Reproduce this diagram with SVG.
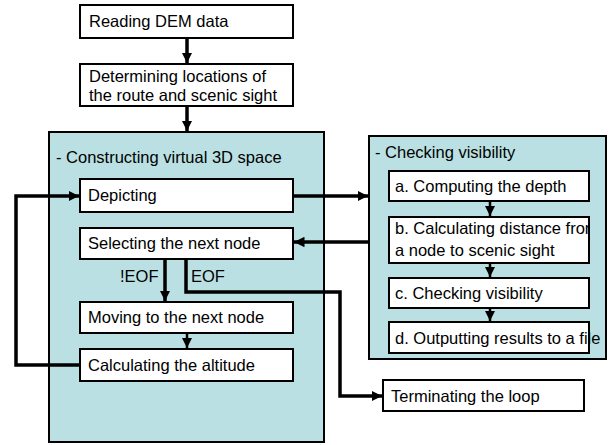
<svg xmlns="http://www.w3.org/2000/svg" width="610" height="445" viewBox="0 0 610 445">
<defs>
<style>
.box{fill:#fff;stroke:#000;stroke-width:2}
.panel{fill:#bae0e3;stroke:#000;stroke-width:2}
.t{font-family:"Liberation Sans",Arial,sans-serif;font-size:16.5px;fill:#000}
.c{fill:none;stroke:#000;stroke-width:3.5}
.c2{fill:none;stroke:#000;stroke-width:2.5}
</style>
<clipPath id="clipb"><rect x="389" y="217" width="200" height="46"/></clipPath>
<marker id="ah" viewBox="0 0 10 10" refX="10" refY="5" markerWidth="3" markerHeight="3" orient="auto" markerUnits="strokeWidth">
<path d="M0,0 L10,5 L0,10 z" fill="#000"/>
</marker>
<marker id="ah2" viewBox="0 0 10 10" refX="10" refY="5" markerWidth="4" markerHeight="4" orient="auto" markerUnits="strokeWidth">
<path d="M0,0 L10,5 L0,10 z" fill="#000"/>
</marker>
</defs>

<g id="panel-construct">
<rect class="panel" x="49" y="132" width="275" height="310"/>
<text class="t" x="56" y="163">- Constructing virtual 3D space</text>
</g>
<g id="panel-checking">
<rect class="panel" x="369" y="136" width="237" height="223"/>
<text class="t" x="375" y="158">- Checking visibility</text>
</g>

<g id="n-reading">
<rect class="box" x="80" y="5" width="213" height="33"/>
<text class="t" x="89" y="27">Reading DEM data</text>
</g>
<g id="n-determining">
<rect class="box" x="80" y="64" width="213" height="42"/>
<text class="t" x="89" y="82">Determining locations of</text>
<text class="t" x="89" y="101">the route and scenic sight</text>
</g>
<g id="n-depicting">
<rect class="box" x="80" y="179" width="213" height="33"/>
<text class="t" x="88" y="201">Depicting</text>
</g>
<g id="n-selecting">
<rect class="box" x="80" y="228" width="213" height="31"/>
<text class="t" x="88" y="249">Selecting the next node</text>
</g>
<g id="n-moving">
<rect class="box" x="80" y="302" width="213" height="31"/>
<text class="t" x="88" y="323">Moving to the next node</text>
</g>
<g id="n-altitude">
<rect class="box" x="80" y="349" width="213" height="32"/>
<text class="t" x="88" y="371">Calculating the altitude</text>
</g>
<g id="n-a">
<rect class="box" x="389" y="171" width="200" height="30"/>
<text class="t" x="395" y="192">a. Computing the depth</text>
</g>
<g id="n-b">
<rect class="box" x="389" y="217" width="200" height="46"/>
<text class="t" x="395" y="234" clip-path="url(#clipb)">b. Calculating distance from</text>
<text class="t" x="395" y="256">a node to scenic sight</text>
</g>
<g id="n-c">
<rect class="box" x="389" y="278" width="200" height="30"/>
<text class="t" x="395" y="299">c. Checking visibility</text>
</g>
<g id="n-d">
<rect class="box" x="389" y="322" width="200" height="31"/>
<text class="t" x="395" y="344">d. Outputting results to a file</text>
</g>
<g id="n-terminating">
<rect class="box" x="383" y="380" width="201" height="31"/>
<text class="t" x="391" y="402">Terminating the loop</text>
</g>

<g id="connectors">
<path class="c" d="M187,38 V63" marker-end="url(#ah)"/>
<path class="c" d="M187,106 V131" marker-end="url(#ah)"/>
<path class="c" d="M80,365 H16 V196 H79" marker-end="url(#ah)"/>
<path class="c" d="M293,196 H368" marker-end="url(#ah)"/>
<path class="c" d="M369,242 H294" marker-end="url(#ah)"/>
<path class="c" d="M165,259 V301" marker-end="url(#ah)"/>
<path class="c" d="M186,259 V292 H340 V396 H382" marker-end="url(#ah)"/>
<path class="c2" d="M187,333 V348" marker-end="url(#ah2)"/>
<path class="c2" d="M490,201 V216" marker-end="url(#ah2)"/>
<path class="c2" d="M490,263 V277" marker-end="url(#ah2)"/>
<path class="c2" d="M490,308 V321" marker-end="url(#ah2)"/>
<text class="t" x="120" y="282">!EOF</text>
<text class="t" x="191" y="282">EOF</text>
</g>
</svg>
